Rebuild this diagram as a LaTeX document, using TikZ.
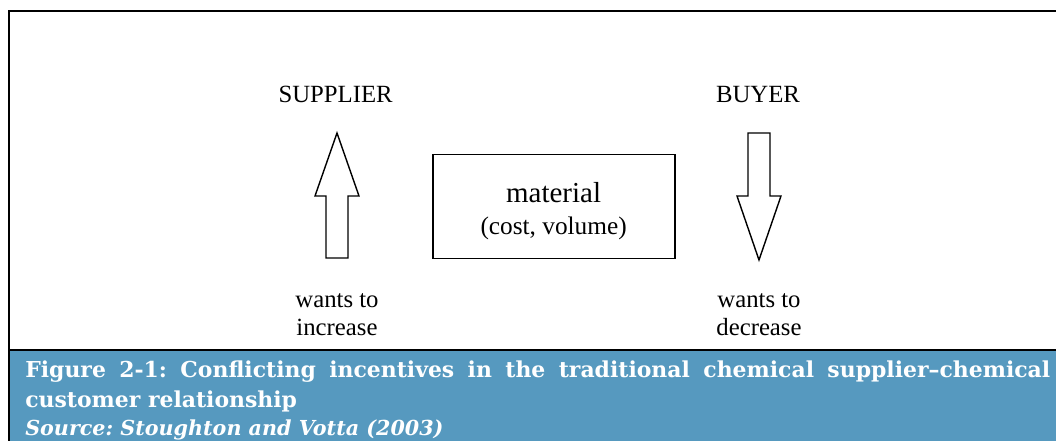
\documentclass[tikz,border=0pt]{standalone}
\usepackage{fontspec}
\setmainfont{Liberation Serif}
\newfontfamily\capfont{DejaVu Serif}
\usepackage{tikz}
\definecolor{capblue}{RGB}{86,153,191}

\begin{document}
\frenchspacing
\begin{tikzpicture}[transform shape, scale=1,
        lbl/.style={anchor=base, inner sep=0pt, font=\fontsize{17.6}{20}\selectfont},
        captext/.style={anchor=base west, inner sep=0pt, text=white, font=\capfont\bfseries\fontsize{15.6}{20}\selectfont},
        blockarrow/.style={draw, line width=1pt, line join=miter, fill=white}]
                \useasboundingbox (0,0) rectangle (26.4,11.025);
                \fill[capblue] (0.225,0) rectangle (26.4,2.275);
                \draw[line width=2pt] (26.4,10.75) -- (0.225,10.75) -- (0.225,0);
                \draw[line width=2pt] (0.225,2.275) -- (26.4,2.275);

                \node[lbl] (supplier) at (8.39,8.45) {SUPPLIER};
                \node[lbl] (buyer) at (18.95,8.45) {BUYER};

                \draw[blockarrow] (8.15,4.575) -- (8.15,6.125) -- (7.875,6.125) -- (8.425,7.7)
                        -- (8.975,6.125) -- (8.7,6.125) -- (8.7,4.575) -- cycle;
                \draw[blockarrow] (18.7,7.7) -- (18.7,6.125) -- (18.425,6.125) -- (18.975,4.525)
                        -- (19.525,6.125) -- (19.25,6.125) -- (19.25,7.7) -- cycle;

                \node[draw, line width=1.3pt, minimum width=6.06cm, minimum height=2.6cm] (box) at (13.855,5.8625) {};
                \node[lbl, font=\fontsize{20.6}{24}\selectfont] (material) at (13.84,5.958) {material};
                \node[lbl, font=\fontsize{18}{22}\selectfont] (costvol) at (13.84,5.168) {(cost, volume)};

                \node[lbl] (wantsup) at (8.425,3.3375) {wants to};
                \node[lbl] (increase) at (8.425,2.6375) {increase};
                \node[lbl] (wantsdown) at (18.975,3.3375) {wants to};
                \node[lbl] (decrease) at (18.975,2.6375) {decrease};

                \node[captext] (capone) at (0.625,1.593) {\makebox[25.625cm][s]{Figure 2-1: Conflicting incentives in the traditional chemical supplier–chemical}};
                \node[captext] (captwo) at (0.625,0.843) {customer relationship};
                \node[captext, font=\capfont\bfseries\itshape\fontsize{14.7}{20}\selectfont] (source) at (0.625,0.125) {Source: Stoughton and Votta (2003)};
            \end{tikzpicture}
\end{document}
